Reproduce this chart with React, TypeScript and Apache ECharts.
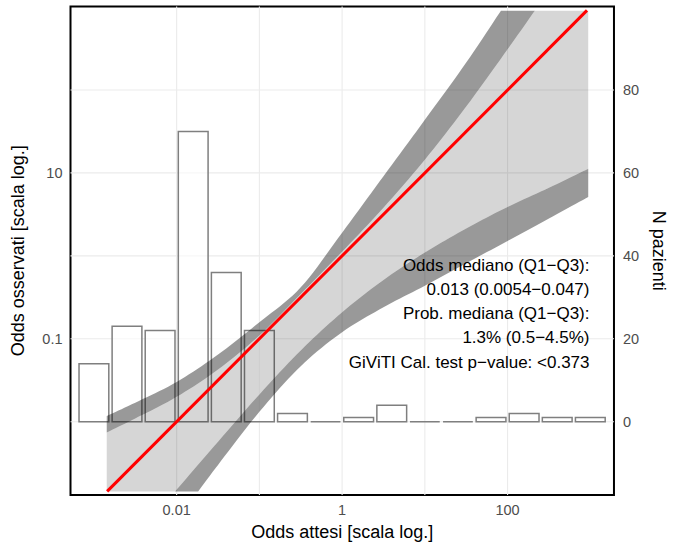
import React, { useEffect, useRef } from "react";
import * as echarts from "echarts";

// ---- axis ticks (odds) ----
const xTickOdds = [0.01, 1, 100];
const xTickLabels = ["0.01", "1", "100"];
const yTickOdds = [0.1, 10];
const yTickLabels = ["0.1", "10"];
const nTicks = [0, 20, 40, 60, 80];
const gridOdds = [0.01, 0.1, 1, 10, 100];

// ---- histogram (bin centre as log10 expected odds, number of patients) ----
const binCenters = [-3.0, -2.6, -2.2, -1.8, -1.4, -1.0, -0.6, -0.2, 0.2, 0.6, 1.0, 1.4, 1.8, 2.2, 2.6, 3.0];
const binCounts = [14, 23, 22, 70, 36, 22, 2, 0, 1, 4, 0, 0, 1, 2, 1, 1];

// ---- calibration belt edges [log10 expected odds, log10 observed odds] ----
const outerUpper = [[-2.845, -1.93], [-2.5, -1.77], [-2.0, -1.52], [-1.5, -1.19], [-1.0, -0.8], [-0.5, -0.38], [0, 0.28], [0.5, 0.96], [1.0, 1.64], [1.5, 2.33], [1.92, 2.956]];
const innerUpper = [[-2.845, -2.13], [-2.5, -1.96], [-2.0, -1.7], [-1.5, -1.37], [-1.0, -0.96], [-0.5, -0.46], [0, 0.05], [0.5, 0.58], [1.0, 1.16], [1.5, 1.8], [2.0, 2.49], [2.33, 2.956]];
const innerLower = [[-2.02, -2.841], [-1.5, -2.24], [-1.0, -1.67], [-0.5, -1.14], [0, -0.68], [0.5, -0.29], [1.0, 0.04], [1.5, 0.33], [2.0, 0.59], [2.5, 0.82], [2.975, 1.05]];
const outerLower = [[-1.74, -2.841], [-1.5, -2.52], [-1.0, -1.88], [-0.5, -1.33], [0, -0.92], [0.5, -0.62], [1.0, -0.36], [1.5, -0.09], [2.0, 0.18], [2.5, 0.45], [2.975, 0.71]];
const beltCornerTopRight = [2.975, 2.956];
const beltCornerBottomLeft = [-2.845, -2.841];

// ---- bisector ----
const bisector = [[-2.84, -2.84], [2.96, 2.96]];

// ---- annotation ----
const annotationLines = [
  "Odds mediano (Q1\u2212Q3):",
  "0.013 (0.0054\u22120.047)",
  "Prob. mediana (Q1\u2212Q3):",
  "1.3% (0.5\u22124.5%)",
  "GiViTI Cal. test p\u2212value: <0.373",
];

const X_MIN = -3.283;
const X_MAX = 3.286;
const Y_MIN = -2.883;
const Y_MAX = 3.006;
const FONT = "'Liberation Sans', Arial, Helvetica, sans-serif";

const log10 = (v: number) => Math.log10(v);
const labelFrom = (ticks: number[], labels: string[]) => (v: number) => {
  const i = ticks.findIndex((t) => Math.abs(log10(t) - v) < 1e-6);
  return i >= 0 ? labels[i] : "";
};

// smooth pixel path through the read knots (drawing only)
function smoothPath(px: number[][]): number[][] {
  if (px.length < 3) return px;
  const out: number[][] = [];
  const steps = 10;
  for (let i = 0; i < px.length - 1; i++) {
    const p0 = px[i - 1] || px[i];
    const p1 = px[i];
    const p2 = px[i + 1];
    const p3 = px[i + 2] || px[i + 1];
    for (let s = 0; s < steps; s++) {
      const t = s / steps;
      const t2 = t * t;
      const t3 = t2 * t;
      const f = (a: number, b: number, c: number, d: number) =>
        0.5 * (2 * b + (-a + c) * t + (2 * a - 5 * b + 4 * c - d) * t2 + (-a + 3 * b - 3 * c + d) * t3);
      out.push([f(p0[0], p1[0], p2[0], p3[0]), f(p0[1], p1[1], p2[1], p3[1])]);
    }
  }
  out.push(px[px.length - 1]);
  return out;
}

type Piece = { pts: number[][]; smooth: boolean };

function polygonSeries(pieces: Piece[], fill: string, z: number) {
  return {
    type: "custom",
    coordinateSystem: "cartesian2d",
    xAxisIndex: 0,
    yAxisIndex: 0,
    silent: true,
    z,
    data: [[0, 0]],
    renderItem: (_params: any, api: any) => {
      const points: number[][] = [];
      pieces.forEach((pc) => {
        const px = pc.pts.map((p) => api.coord(p));
        (pc.smooth ? smoothPath(px) : px).forEach((q) => points.push(q));
      });
      return {
        type: "polygon",
        shape: { points },
        style: { fill, stroke: "none" },
      };
    },
  };
}

export default function App() {
  const ref = useRef<HTMLDivElement>(null);

  useEffect(() => {
    if (!ref.current) return;
    const chart = echarts.init(ref.current, null, { renderer: "svg" });

    const rev = (a: number[][]) => a.slice().reverse();
    const upperStrip: Piece[] = [
      { pts: outerUpper, smooth: true },
      { pts: rev(innerUpper), smooth: true },
    ];
    const lightBelt: Piece[] = [
      { pts: innerUpper, smooth: true },
      { pts: [beltCornerTopRight], smooth: false },
      { pts: rev(innerLower), smooth: true },
      { pts: [beltCornerBottomLeft], smooth: false },
    ];
    const lowerStrip: Piece[] = [
      { pts: innerLower, smooth: true },
      { pts: rev(outerLower), smooth: true },
    ];

    const option: any = {
      animation: false,
      backgroundColor: "#ffffff",
      grid: {
        left: 70.5,
        top: 6.5,
        right: 61.3,
        bottom: 49.2,
        show: true,
        borderColor: "#000000",
        borderWidth: 2,
        backgroundColor: "transparent",
      },
      xAxis: {
        type: "value",
        min: X_MIN,
        max: X_MAX,
        axisLine: { show: false },
        axisTick: { show: false },
        splitLine: { show: false },
        axisLabel: {
          customValues: xTickOdds.map(log10),
          formatter: labelFrom(xTickOdds, xTickLabels),
          color: "#4d4d4d",
          fontSize: 14.5,
          fontFamily: FONT,
          margin: 7,
        },
        name: "Odds attesi [scala log.]",
        nameLocation: "middle",
        nameGap: 28,
        nameTextStyle: { fontSize: 18, color: "#000000", fontFamily: FONT },
      },
      yAxis: [
        {
          type: "value",
          min: Y_MIN,
          max: Y_MAX,
          position: "left",
          axisLine: { show: false },
          axisTick: { show: false },
          splitLine: { show: false },
          axisLabel: {
            customValues: yTickOdds.map(log10),
            formatter: labelFrom(yTickOdds, yTickLabels),
            color: "#4d4d4d",
            fontSize: 14.5,
            fontFamily: FONT,
            margin: 8,
          },
          name: "Odds osservati [scala log.]",
          nameLocation: "middle",
          nameGap: 44,
          nameTextStyle: { fontSize: 18, color: "#000000", fontFamily: FONT },
        },
        {
          type: "value",
          min: (Y_MIN + 2) * 20,
          max: (Y_MAX + 2) * 20,
          position: "right",
          axisLine: { show: false },
          axisTick: { show: false },
          splitLine: { show: false },
          axisLabel: {
            customValues: nTicks,
            formatter: (v: number) => String(Math.round(v)),
            color: "#4d4d4d",
            fontSize: 14.5,
            fontFamily: FONT,
            margin: 9,
          },
          name: "N pazienti",
          nameLocation: "middle",
          nameRotate: -90,
          nameGap: 24,
          nameTextStyle: { fontSize: 18, color: "#000000", fontFamily: FONT },
        },
      ],
      graphic: annotationLines.map((t, i) => ({
        type: "text",
        x: 589.5,
        y: 265 + i * 24.3,
        z: 100,
        style: {
          text: t,
          fill: "#000000",
          fontSize: 17,
          fontFamily: FONT,
          align: "right",
          verticalAlign: "middle",
        },
      })),
      series: [
        {
          type: "custom",
          coordinateSystem: "cartesian2d",
          xAxisIndex: 0,
          yAxisIndex: 0,
          silent: true,
          z: 1,
          data: [[0, 0]],
          renderItem: (_p: any, api: any) => {
            const children: any[] = [];
            gridOdds.forEach((g) => {
              const v = log10(g);
              const a = api.coord([X_MIN, v]);
              const b = api.coord([X_MAX, v]);
              children.push({ type: "line", shape: { x1: a[0], y1: a[1], x2: b[0], y2: b[1] }, style: { stroke: "#ebebeb", lineWidth: 1.1 } });
              const c = api.coord([v, Y_MIN]);
              const d = api.coord([v, Y_MAX]);
              children.push({ type: "line", shape: { x1: c[0], y1: c[1], x2: d[0], y2: d[1] }, style: { stroke: "#ebebeb", lineWidth: 1.1 } });
            });
            return { type: "group", children };
          },
        },
        {
          type: "custom",
          coordinateSystem: "cartesian2d",
          xAxisIndex: 0,
          yAxisIndex: 1,
          silent: true,
          z: 2,
          data: binCenters.map((c, i) => [c, binCounts[i]]),
          renderItem: (_p: any, api: any) => {
            const c = api.value(0);
            const n = api.value(1);
            const tl = api.coord([c - 0.18, n]);
            const br = api.coord([c + 0.18, 0]);
            return {
              type: "rect",
              shape: { x: tl[0], y: tl[1], width: br[0] - tl[0], height: br[1] - tl[1] },
              style: { fill: "rgba(255,255,255,0.6)", stroke: "#7f7f7f", lineWidth: 1.5 },
            };
          },
        },
        polygonSeries(upperStrip, "rgba(0,0,0,0.4)", 3),
        polygonSeries(lightBelt, "rgba(0,0,0,0.16)", 3),
        polygonSeries(lowerStrip, "rgba(0,0,0,0.4)", 3),
        {
          type: "line",
          xAxisIndex: 0,
          yAxisIndex: 0,
          z: 4,
          silent: true,
          symbol: "none",
          data: bisector,
          lineStyle: { color: "#ff0000", width: 3 },
        },
      ],
    };

    chart.setOption(option);
    return () => chart.dispose();
  }, []);

  return (
    <div
      ref={ref}
      style={{ position: "fixed", left: 0, top: 0, width: 676, height: 546, background: "#ffffff" }}
    />
  );
}
